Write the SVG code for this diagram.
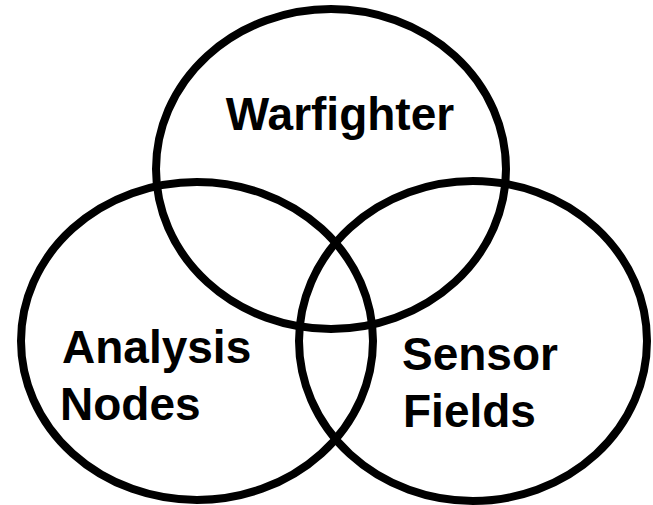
<svg xmlns="http://www.w3.org/2000/svg" width="653" height="505" viewBox="0 0 653 505">
<style>
.c{fill:none;stroke:#000;stroke-width:8}
.t{font-family:"Liberation Sans",Arial,sans-serif;font-weight:bold;font-size:46px;fill:#000}
</style>
<rect width="653" height="505" fill="#fff"/>
<g id="warfighter">
<ellipse class="c" cx="331" cy="169" rx="175" ry="160"/>
<text class="t" x="340" y="130" text-anchor="middle">Warfighter</text>
</g>
<g id="analysis-nodes">
<ellipse class="c" cx="197" cy="341" rx="176" ry="159"/>
<text class="t" x="62" y="363">Analysis</text>
<text class="t" x="60" y="420">Nodes</text>
</g>
<g id="sensor-fields">
<ellipse class="c" cx="473" cy="341" rx="174" ry="160"/>
<text class="t" x="402" y="370">Sensor</text>
<text class="t" x="403" y="427">Fields</text>
</g>
<g id="connectors"></g>
</svg>
